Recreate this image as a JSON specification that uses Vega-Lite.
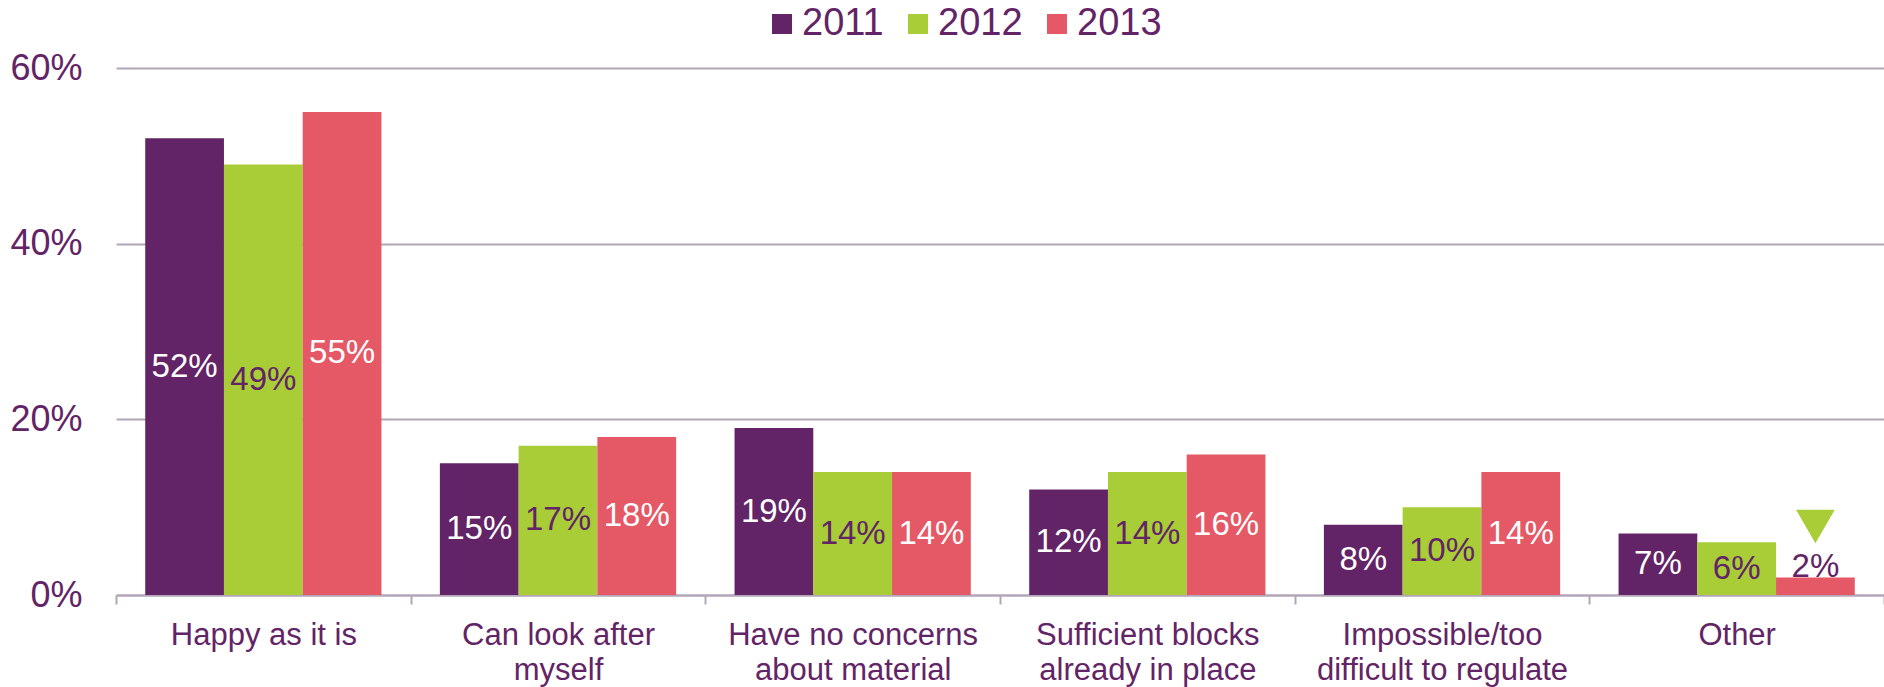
{
  "$schema": "https://vega.github.io/schema/vega-lite/v6.json",
  "width": 1768,
  "height": 527,
  "autosize": {"type": "none"},
  "padding": {"left": 116, "top": 68, "right": 0, "bottom": 92},
  "background": "white",
  "config": {"view": {"stroke": null}, "font": "Liberation Sans"},
  "data": {
    "values": [
      {"category": "Happy as it is", "year": "2011", "value": 0.52},
      {"category": "Happy as it is", "year": "2012", "value": 0.49},
      {"category": "Happy as it is", "year": "2013", "value": 0.55},
      {"category": "Can look after myself", "year": "2011", "value": 0.15},
      {"category": "Can look after myself", "year": "2012", "value": 0.17},
      {"category": "Can look after myself", "year": "2013", "value": 0.18},
      {"category": "Have no concerns about material", "year": "2011", "value": 0.19},
      {"category": "Have no concerns about material", "year": "2012", "value": 0.14},
      {"category": "Have no concerns about material", "year": "2013", "value": 0.14},
      {"category": "Sufficient blocks already in place", "year": "2011", "value": 0.12},
      {"category": "Sufficient blocks already in place", "year": "2012", "value": 0.14},
      {"category": "Sufficient blocks already in place", "year": "2013", "value": 0.16},
      {"category": "Impossible/too difficult to regulate", "year": "2011", "value": 0.08},
      {"category": "Impossible/too difficult to regulate", "year": "2012", "value": 0.10},
      {"category": "Impossible/too difficult to regulate", "year": "2013", "value": 0.14},
      {"category": "Other", "year": "2011", "value": 0.07},
      {"category": "Other", "year": "2012", "value": 0.06},
      {"category": "Other", "year": "2013", "value": 0.02, "flag": "down"}
    ]
  },
  "encoding": {
    "x": {
      "field": "category",
      "type": "nominal",
      "sort": ["Happy as it is", "Can look after myself", "Have no concerns about material", "Sufficient blocks already in place", "Impossible/too difficult to regulate", "Other"],
      "scale": {"paddingInner": 0, "paddingOuter": 0},
      "axis": {
        "title": null,
        "labelAngle": 0,
        "labelFontSize": 31,
        "labelColor": "#622466",
        "labelPadding": 16,
        "labelLineHeight": 35,
        "labelBaseline": "top",
        "labelLimit": 400,
        "tickSize": 9,
        "tickColor": "#b3a6b8",
        "tickWidth": 2,
        "tickBand": "extent",
        "domainColor": "#b3a6b8",
        "domainWidth": 2,
        "grid": false,
        "labelExpr": "datum.label == 'Can look after myself' ? ['Can look after','myself'] : datum.label == 'Have no concerns about material' ? ['Have no concerns','about material'] : datum.label == 'Sufficient blocks already in place' ? ['Sufficient blocks','already in place'] : datum.label == 'Impossible/too difficult to regulate' ? ['Impossible/too','difficult to regulate'] : datum.label"
      }
    },
    "xOffset": {
      "field": "year",
      "type": "nominal",
      "scale": {"paddingInner": 0, "paddingOuter": 0.371}
    }
  },
  "layer": [
    {
      "mark": {"type": "bar"},
      "encoding": {
        "y": {
          "field": "value",
          "type": "quantitative",
          "scale": {"domain": [0, 0.6], "nice": false, "zero": true},
          "axis": {
            "title": null,
            "format": ".0%",
            "values": [0, 0.2, 0.4, 0.6],
            "domain": false,
            "ticks": false,
            "grid": true,
            "gridColor": "#b3a6b8",
            "gridWidth": 2,
            "labelFontSize": 36,
            "labelColor": "#622466",
            "labelPadding": 34
          }
        },
        "color": {
          "field": "year",
          "type": "nominal",
          "scale": {"domain": ["2011", "2012", "2013"], "range": ["#622466", "#a8cd37", "#e55966"]},
          "legend": {
            "orient": "none",
            "legendX": 647,
            "legendY": -63,
            "direction": "horizontal",
            "title": null,
            "symbolType": "square",
            "symbolSize": 400,
            "symbolStrokeWidth": 0,
            "labelFontSize": 38,
            "labelColor": "#622466",
            "labelOffset": 1,
            "columnPadding": 15,
            "padding": 0
          }
        }
      }
    },
    {
      "transform": [{"filter": "datum.value >= 0.05"}],
      "mark": {"type": "text", "fontSize": 33, "baseline": "middle", "align": "center"},
      "encoding": {
        "y": {"field": "value", "type": "quantitative", "scale": {"domain": [0, 1.2], "nice": false, "zero": true}, "axis": null},
        "text": {"field": "value", "type": "quantitative", "format": ".0%"},
        "color": {"condition": {"test": "datum.year == '2012'", "value": "#622466"}, "value": "white"}
      }
    },
    {
      "transform": [{"filter": "datum.value < 0.05"}],
      "mark": {"type": "text", "fontSize": 33, "baseline": "middle", "align": "center", "dy": -19, "color": "#622466"},
      "encoding": {
        "y": {"field": "value", "type": "quantitative", "scale": {"domain": [0, 1.2], "nice": false, "zero": true}, "axis": null},
        "text": {"field": "value", "type": "quantitative", "format": ".0%"}
      }
    },
    {
      "transform": [{"filter": "datum.flag == 'down'"}],
      "mark": {"type": "point", "shape": "triangle-down", "filled": true, "size": 1500, "color": "#a8cd37", "opacity": 1, "yOffset": -51},
      "encoding": {
        "y": {"field": "value", "type": "quantitative", "scale": {"domain": [0, 0.6], "nice": false, "zero": true}, "axis": null}
      }
    }
  ],
  "resolve": {"scale": {"y": "independent"}}
}
